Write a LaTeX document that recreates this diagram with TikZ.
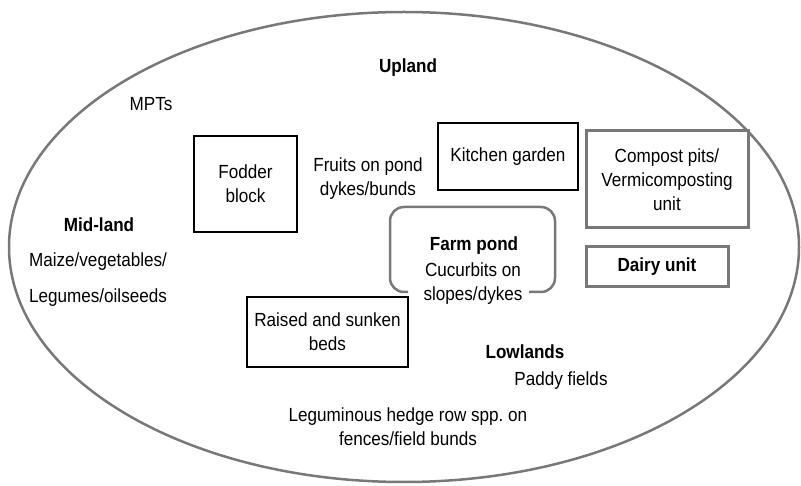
\documentclass[tikz,border=0pt]{standalone}
\usepackage{fontspec}
\setmainfont{Liberation Sans}[FakeStretch=0.9]
\frenchspacing
\definecolor{rimgray}{RGB}{120,120,120}
\begin{document}
\begin{tikzpicture}[x=1pt,y=-1pt,
  txt/.style={align=center,inner sep=0pt,font=\fontsize{19}{24}\selectfont},
  btxt/.style={txt,font=\fontsize{19}{24}\selectfont\bfseries},
  blackbox/.style={draw=black,line width=2pt},
  graybox/.style={draw=rimgray,line width=3pt}]
\useasboundingbox (0,0) rectangle (801,486);
\draw[rimgray,line width=2.5pt] (404,247) ellipse [x radius=395, y radius=235];
% boxes
\node[blackbox,minimum width=103pt,minimum height=96pt] (fodder) at (245.5,184) {};
\node[txt] (fodderT) at (fodder.center) {Fodder\\block};
\node[blackbox,minimum width=140pt,minimum height=67pt] (kitchen) at (508,156.5) {};
\node[txt] (kitchenT) at (kitchen.center) {Kitchen garden};
\node[graybox,minimum width=162pt,minimum height=97pt] (compost) at (667,179.5) {};
\node[txt] (compostT) at (compost.center) {Compost pits/\\Vermicomposting\\unit};
\node[graybox,minimum width=142pt,minimum height=40pt] (dairy) at (657,267) {};
\node[btxt] (dairyT) at (dairy.center) {Dairy unit};
\node[blackbox,minimum width=161pt,minimum height=70pt] (beds) at (327.5,332) {};
\node[txt] (bedsT) at (beds.center) {Raised and sunken\\beds};
% farm pond
\coordinate (pl) at (408,292);
\coordinate (pr) at (529,292);
\draw[rimgray,line width=2.5pt,rounded corners=14pt] (pl) -- (390,292) -- (390,207) -- (555,207) -- (555,292) -- (pr);
\node[btxt] (pond) at (474,246) {Farm pond};
\node[txt] (cucurbits) at (473,284) {Cucurbits on\\slopes/dykes};
% free texts
\node[btxt] (upland) at (408,68) {Upland};
\node[txt] (mpts) at (151,104) {MPTs};
\node[txt] (fruits) at (368,178.5) {Fruits on pond\\dykes/bunds};
\node[btxt] (midland) at (99,225) {Mid-land};
\node[txt] (maize) at (98,262) {Maize/vegetables/};
\node[txt] (legumes) at (98,298) {Legumes/oilseeds};
\node[btxt] (lowlands) at (525,352) {Lowlands};
\node[txt] (paddy) at (561,381) {Paddy fields};
\node[txt] (hedge) at (408,427) {Leguminous hedge row spp.\ on\\fences/field bunds};
\end{tikzpicture}
\end{document}
